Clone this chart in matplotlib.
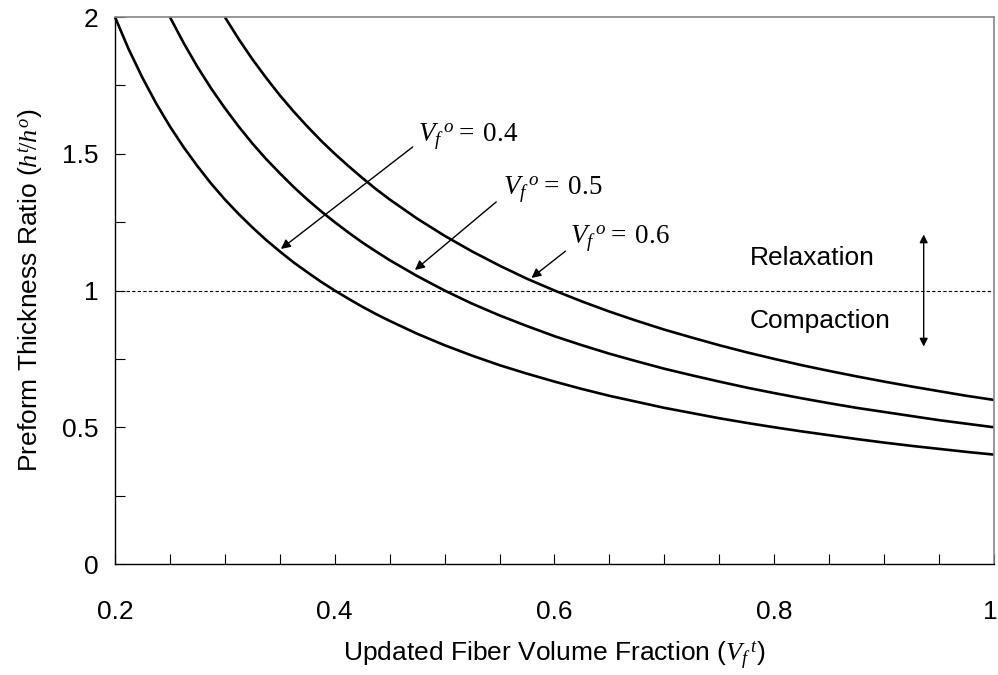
import matplotlib
matplotlib.use("Agg")
import matplotlib.pyplot as plt
import matplotlib.transforms as mtransforms

plt.rcParams['font.family'] = ['Liberation Sans', 'DejaVu Sans']
plt.rcParams['mathtext.fontset'] = 'custom'
plt.rcParams['mathtext.rm'] = 'Liberation Serif'
plt.rcParams['mathtext.it'] = 'Liberation Serif:italic'
plt.rcParams['mathtext.bf'] = 'Liberation Serif:bold'

# Data
x_grid = [0.2000, 0.2125, 0.2250, 0.2375, 0.2500, 0.2625, 0.2750, 0.2875, 0.3000,
          0.3125, 0.3250, 0.3375, 0.3500, 0.3625, 0.3750, 0.3875, 0.4000, 0.4125,
          0.4250, 0.4375, 0.4500,
          0.475, 0.500, 0.525, 0.550, 0.575, 0.600, 0.625, 0.650, 0.675,
          0.700, 0.725, 0.750, 0.775, 0.800, 0.825, 0.850, 0.875, 0.900, 0.925,
          0.950, 0.975, 1.000]

y_04 = [2.000, 1.882, 1.778, 1.684, 1.600, 1.524, 1.455, 1.391, 1.333, 1.280,
        1.231, 1.185, 1.143, 1.103, 1.067, 1.032, 1.000, 0.970, 0.941, 0.914, 0.889,
        0.842, 0.800, 0.762, 0.727, 0.696, 0.667, 0.640, 0.615, 0.593, 0.571,
        0.552, 0.533, 0.516, 0.500, 0.485, 0.471, 0.457, 0.444, 0.432, 0.421,
        0.410, 0.400]
y_05 = [2.000, 1.905, 1.818, 1.739, 1.667, 1.600, 1.538, 1.481, 1.429, 1.379,
        1.333, 1.290, 1.250, 1.212, 1.176, 1.143, 1.111,
        1.053, 1.000, 0.952, 0.909, 0.870, 0.833, 0.800, 0.769, 0.741, 0.714,
        0.690, 0.667, 0.645, 0.625, 0.606, 0.588, 0.571, 0.556, 0.541, 0.526,
        0.513, 0.500]
y_06 = [2.000, 1.920, 1.846, 1.778, 1.714, 1.655, 1.600, 1.548, 1.500, 1.455,
        1.412, 1.371, 1.333,
        1.263, 1.200, 1.143, 1.091, 1.043, 1.000, 0.960, 0.923, 0.889, 0.857,
        0.828, 0.800, 0.774, 0.750, 0.727, 0.706, 0.686, 0.667, 0.649, 0.632,
        0.615, 0.600]

x_04 = x_grid
x_05 = x_grid[4:]
x_06 = x_grid[8:]

x_ticks = [0.2, 0.4, 0.6, 0.8, 1.0]
x_tick_labels = ['0.2', '0.4', '0.6', '0.8', '1']
x_minor = [0.25, 0.3, 0.35, 0.45, 0.5, 0.55, 0.65, 0.7, 0.75, 0.85, 0.9, 0.95]
y_ticks = [0, 0.5, 1.0, 1.5, 2.0]
y_tick_labels = ['0', '0.5', '1', '1.5', '2']
y_minor = [0.25, 0.75, 1.25, 1.75]

fig = plt.figure(figsize=(9.98, 6.75), dpi=100)
ax = fig.add_axes([0.1152, 0.1644, 0.8808, 0.8104])

for xs, ys in [(x_04, y_04), (x_05, y_05), (x_06, y_06)]:
    ax.plot(xs, ys, color='black', lw=1.9, solid_capstyle='butt',
            solid_joinstyle='round', clip_on=False)

ax.axhline(1.0, color='black', lw=0.8, ls=(0, (3, 2)))

ax.set_xlim(0.2, 1.0)
ax.set_ylim(0, 2)
ax.set_xticks(x_ticks)
ax.set_xticklabels(x_tick_labels)
ax.set_xticks(x_minor, minor=True)
ax.set_yticks(y_ticks)
ax.set_yticklabels(y_tick_labels)
ax.set_yticks(y_minor, minor=True)

ax.tick_params(axis='both', which='both', direction='in', length=7, width=0.8,
               colors='black', labelsize=19)
ax.tick_params(axis='x', which='major', pad=26)
ax.tick_params(axis='y', which='major', pad=12)
for s in ['top', 'right']:
    ax.spines[s].set_color('#888888')
    ax.spines[s].set_linewidth(1.2)
for s in ['left', 'bottom']:
    ax.spines[s].set_linewidth(1.0)

# nudge the last x tick label so it stays inside the figure
last_lbl = ax.get_xticklabels()[-1]
last_lbl.set_transform(last_lbl.get_transform() +
                       mtransforms.ScaledTranslation(-0.04, 0, fig.dpi_scale_trans))

ax.set_xlabel(r'Updated Fiber Volume Fraction ($V_f\,{}^{t}$)', fontsize=19, labelpad=11)
ax.set_ylabel(r'Preform Thickness Ratio ($h^t\!/h^o$)', fontsize=19, labelpad=12)

arrow_kw = dict(arrowstyle='-|>', color='black', lw=1.0, mutation_scale=14,
                shrinkA=0, shrinkB=0)
# arrows (tail -> head)
ax.annotate('', xy=(0.351, 1.152), xytext=(0.471, 1.525), arrowprops=arrow_kw)
ax.annotate('', xy=(0.473, 1.075), xytext=(0.547, 1.324), arrowprops=arrow_kw)
ax.annotate('', xy=(0.579, 1.046), xytext=(0.610, 1.144), arrowprops=arrow_kw)

label_kw = dict(fontsize=19.5, ha='left', va='baseline')
ax.text(0.476, 1.547, r'$V_f\,{}^{o}=\;0.4$', **label_kw)
ax.text(0.553, 1.354, r'$V_f\,{}^{o}=\;0.5$', **label_kw)
ax.text(0.614, 1.175, r'$V_f\,{}^{o}=\;0.6$', **label_kw)

ax.text(0.778, 1.12, 'Relaxation', fontsize=19, ha='left', va='center')
ax.text(0.778, 0.89, 'Compaction', fontsize=19, ha='left', va='center')
ax.annotate('', xy=(0.936, 1.205), xytext=(0.936, 0.795),
            arrowprops=dict(arrowstyle='<|-|>', color='black', lw=1.0, mutation_scale=12,
                            shrinkA=0, shrinkB=0))

fig.savefig('out.png', dpi=100)
